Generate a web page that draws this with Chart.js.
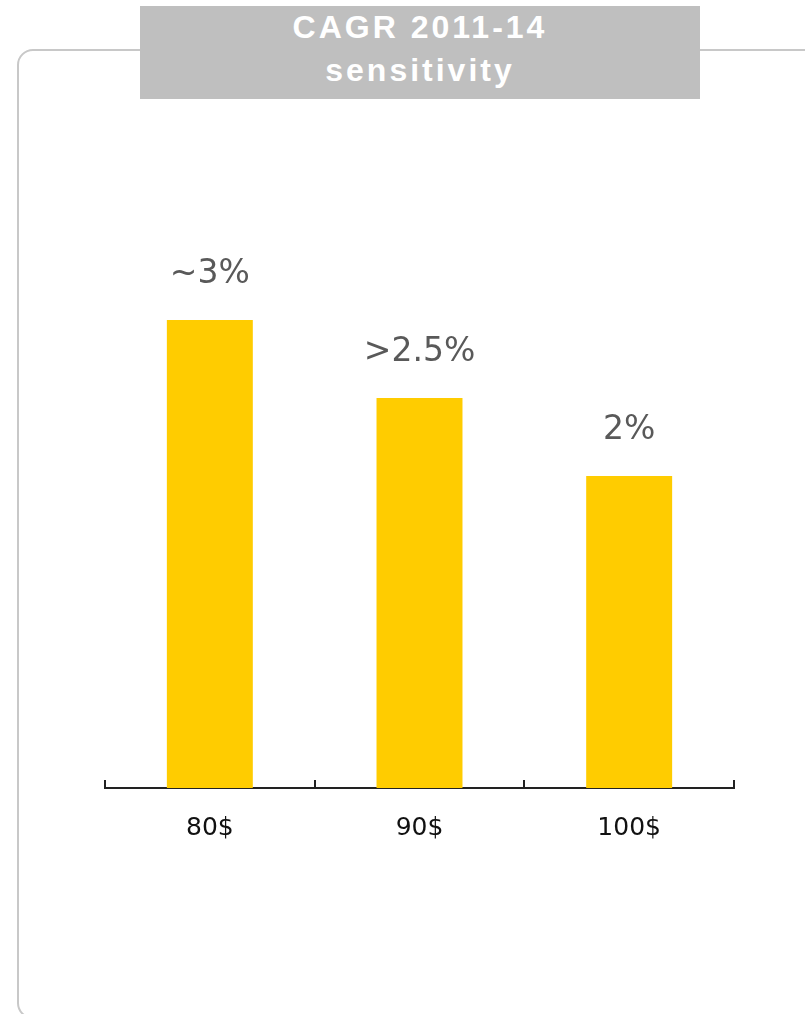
<!DOCTYPE html>
<html>
<head>
<meta charset="utf-8">
<script src="https://cdn.jsdelivr.net/npm/chart.js@4.4.1/dist/chart.umd.min.js"></script>
<style>
  html, body { margin:0; padding:0; background:#ffffff; width:805px; height:1014px; overflow:hidden; }
  #frame { position:absolute; left:17px; top:49px; width:900px; height:970px; border:2px solid #c8c8c8; border-radius:16px; box-sizing:border-box; }
  #title { position:absolute; left:140px; top:6px; width:560px; height:93px; background:#bfbfbf; color:#ffffff;
           font-family:"Liberation Sans", Arial, sans-serif; font-weight:bold; font-size:32px; line-height:43px;
           letter-spacing:3px; text-align:center; box-sizing:border-box; padding-top:0px; }
  #wrap { position:absolute; left:0; top:0; width:805px; height:1014px; }
</style>
</head>
<body>
<div id="frame"></div>
<div id="title">CAGR 2011-14<br>sensitivity</div>
<div id="wrap"><canvas id="c" width="805" height="1014"></canvas></div>
<script>
const categories = ["80$", "90$", "100$"];
const values = [3, 2.5, 2];
const valueLabels = ["~3%", ">2.5%", "2%"];

const labelPlugin = {
  id: 'valueLabels',
  afterDatasetsDraw(chart) {
    const ctx = chart.ctx;
    const meta = chart.getDatasetMeta(0);
    ctx.save();
    ctx.font = '33px "DejaVu Sans", Verdana, sans-serif';
    ctx.fillStyle = '#595959';
    ctx.textAlign = 'center';
    ctx.textBaseline = 'alphabetic';
    meta.data.forEach((bar, i) => {
      ctx.fillText(valueLabels[i], bar.x, bar.y - 37);
    });
    ctx.restore();
  }
};

const tickPlugin = {
  id: 'upTicks',
  afterDraw(chart) {
    const xs = chart.scales.x;
    const ctx = chart.ctx;
    const n = categories.length;
    const step = (xs.right - xs.left) / n;
    const y = xs.top;
    ctx.save();
    ctx.strokeStyle = '#222222';
    ctx.lineWidth = 2;
    ctx.beginPath();
    for (let i = 0; i <= n; i++) {
      const x = Math.round(xs.left + step * i);
      ctx.moveTo(x, y);
      ctx.lineTo(x, y - 8);
    }
    ctx.stroke();
    ctx.restore();
  }
};

new Chart(document.getElementById('c'), {
  type: 'bar',
  data: {
    labels: categories,
    datasets: [{
      data: values,
      backgroundColor: '#ffcc00',
      borderWidth: 0,
      categoryPercentage: 1,
      barPercentage: 0.41
    }]
  },
  options: {
    responsive: false,
    animation: false,
    layout: { padding: { left: 105, right: 71, top: 164, bottom: 146 } },
    plugins: { legend: { display: false }, tooltip: { enabled: false }, title: { display: false } },
    scales: {
      x: {
        grid: { display: false, drawTicks: false, tickLength: 0 },
        border: { display: true, color: '#222222', width: 2 },
        ticks: { color: '#111111', padding: 25, font: { family: '"DejaVu Sans", Verdana, sans-serif', size: 25 } }
      },
      y: { display: false, min: 0, max: 4 }
    }
  },
  plugins: [labelPlugin, tickPlugin]
});
</script>
</body>
</html>
